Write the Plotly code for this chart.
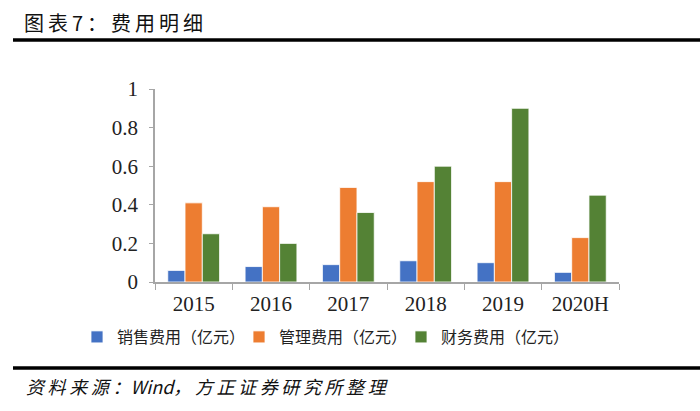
import plotly.graph_objects as go

categories = ["2015", "2016", "2017", "2018", "2019", "2020H"]
sales_exp = [0.06, 0.08, 0.09, 0.11, 0.10, 0.05]
admin_exp = [0.41, 0.39, 0.49, 0.52, 0.52, 0.23]
fin_exp = [0.25, 0.20, 0.36, 0.60, 0.90, 0.45]
series_names = ["销售费用（亿元）", "管理费用（亿元）", "财务费用（亿元）"]
y_ticks = [0, 0.2, 0.4, 0.6, 0.8, 1]
y_tick_text = ["0", "0.2", "0.4", "0.6", "0.8", "1"]

W, H = 700, 411
L, R, T, B = 155, 81, 89, 129
PW, PH = W - L - R, H - T - B


def px_x(x):
    return (x - L) / PW


def px_y(y):
    return (H - B - y) / PH


def spaced(s, sp="\u2009"):
    return sp.join(list(s))


colors = ["#4472C4", "#ED7D31", "#548235"]
fig = go.Figure()
for name, vals, c in zip(series_names, [sales_exp, admin_exp, fin_exp], colors):
    fig.add_trace(go.Bar(x=categories, y=vals, name=name, marker_color=c,
                         marker_line=dict(color="white", width=0.8)))

fig.update_layout(
    width=W, height=H,
    margin=dict(l=L, r=R, t=T, b=B, autoexpand=False),
    paper_bgcolor="white", plot_bgcolor="white",
    barmode="group", bargap=0.33, bargroupgap=0,
    font=dict(family="Noto Sans CJK SC", color="#222222"),
    showlegend=True,
    legend=dict(orientation="h", x=px_x(77), y=px_y(337), xanchor="left", yanchor="middle",
                font=dict(family="Noto Sans CJK SC", size=16, color="#222222"),
                itemwidth=30, entrywidth=117, tracegroupgap=0, bgcolor="rgba(0,0,0,0)"),
    xaxis=dict(showline=True, linecolor="#A6A6A6", linewidth=1.5, ticks="outside",
               tickson="boundaries", ticklen=6, tickcolor="#A6A6A6",
               ticklabelstandoff=2,
               tickfont=dict(family="Liberation Serif", size=21, color="#222222"),
               showgrid=False),
    yaxis=dict(range=[0, 1], showline=True, linecolor="#A6A6A6", linewidth=1.5,
               ticks="outside", ticklen=4, tickcolor="#A6A6A6", ticklabelstandoff=7,
               tickvals=y_ticks, ticktext=y_tick_text, showgrid=False, zeroline=False,
               tickfont=dict(family="Liberation Serif", size=21, color="#222222")),
)

fig.add_annotation(xref="paper", yref="paper", x=px_x(22), y=px_y(22), xanchor="left",
                   yanchor="middle", showarrow=False, text=spaced("图表7：费用明细"),
                   font=dict(family="Noto Sans CJK SC", size=20, color="#111111"))
fig.add_shape(type="line", xref="paper", yref="paper", x0=px_x(13), x1=px_x(700),
              y0=px_y(40), y1=px_y(40), line=dict(color="black", width=3.5))
fig.add_shape(type="line", xref="paper", yref="paper", x0=px_x(13), x1=px_x(700),
              y0=px_y(368), y1=px_y(368), line=dict(color="black", width=3.5))
fig.add_annotation(xref="paper", yref="paper", x=px_x(24), y=px_y(386), xanchor="left",
                   yanchor="middle", showarrow=False,
                   text="<i>" + spaced("资料来源：") + "Wind" + spaced("，方正证券研究所整理") + "</i>",
                   font=dict(family="Noto Sans CJK SC", size=18, color="#111111"))

fig.write_html("out.html", config={"displayModeBar": False},
               post_script="document.body.style.margin='0px';")
